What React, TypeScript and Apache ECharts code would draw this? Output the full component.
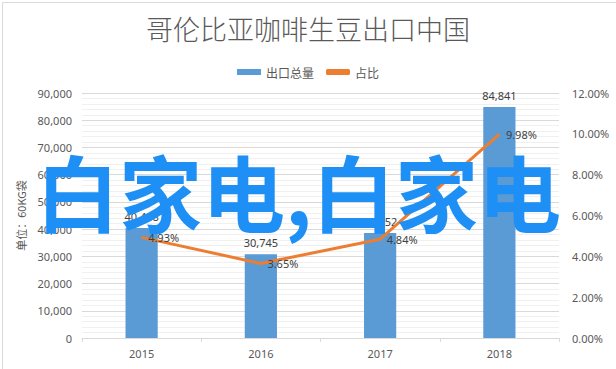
import React, { useEffect, useRef } from "react";
import * as echarts from "echarts";

const categories = ["2015", "2016", "2017", "2018"];
const exportVolume = [40448, 30745, 38552, 84841];
const shareRatio = [0.0493, 0.0365, 0.0484, 0.0998];
const titleText = "哥伦比亚咖啡生豆出口中国";
const seriesNames = ["出口总量", "占比"];
const leftAxisName = "单位：60KG袋";
const overlayText = "白家电,白家电";

const FONT = "'Noto Sans', 'Noto Sans CJK SC', sans-serif";
const CJK = "'Noto Sans CJK SC', sans-serif";

const fmtNum = (v: number) => v.toLocaleString("en-US");
const fmtPct = (v: number) => (v * 100).toFixed(2) + "%";

export default function App() {
  const ref = useRef<HTMLDivElement>(null);
  useEffect(() => {
    if (!ref.current) return;
    const chart = echarts.init(ref.current, undefined, { renderer: "svg" });
    chart.setOption({
      animation: false,
      backgroundColor: "#ffffff",
      textStyle: { fontFamily: FONT },
      title: {
        text: titleText,
        left: "center",
        top: 10,
        textStyle: { fontFamily: CJK, fontSize: 27, fontWeight: 300, color: "#595959" },
      },
      legend: {
        top: 61,
        left: "center",
        itemWidth: 24,
        itemHeight: 6,
        itemGap: 12,
        textStyle: { fontFamily: CJK, fontSize: 12, color: "#595959" },
        data: [
          { name: seriesNames[0], icon: "rect" },
          { name: seriesNames[1], icon: "roundRect" },
        ],
      },
      grid: { left: 82, right: 57, top: 93, bottom: 31, containLabel: false },
      xAxis: {
        type: "category",
        data: categories,
        boundaryGap: true,
        axisLine: { lineStyle: { color: "#d9d9d9" } },
        axisTick: { show: true, length: 4, lineStyle: { color: "#d9d9d9" } },
        axisLabel: { color: "#595959", fontSize: 11, margin: 10 },
      },
      yAxis: [
        {
          type: "value",
          min: 0,
          max: 90000,
          interval: 10000,
          name: leftAxisName,
          nameLocation: "middle",
          nameRotate: 90,
          nameGap: 55,
          nameTextStyle: { fontFamily: CJK, fontSize: 11, color: "#595959" },
          axisLine: { show: false },
          axisTick: { show: false },
          axisLabel: { color: "#595959", fontSize: 11, margin: 10, formatter: (v: number) => fmtNum(v) },
          splitLine: { show: true, lineStyle: { color: "#d9d9d9" } },
          minorTick: { show: false, splitNumber: 5 },
          minorSplitLine: { show: true, lineStyle: { color: "#f0f0f0" } },
        },
        {
          type: "value",
          min: 0,
          max: 0.12,
          interval: 0.02,
          axisLine: { show: false },
          axisTick: { show: false },
          splitLine: { show: false },
          axisLabel: { color: "#595959", fontSize: 11, margin: 13, formatter: (v: number) => fmtPct(v) },
        },
      ],
      series: [
        {
          name: seriesNames[0],
          type: "bar",
          data: exportVolume,
          barWidth: "27%",
          itemStyle: { color: "#5b9bd5" },
          label: {
            show: true,
            position: "top",
            distance: 6,
            color: "#404040",
            fontSize: 11,
            formatter: (p: any) => fmtNum(p.value),
          },
        },
        {
          name: seriesNames[1],
          type: "line",
          yAxisIndex: 1,
          data: shareRatio,
          symbol: "circle",
          symbolSize: 1,
          showSymbol: true,
          lineStyle: { color: "#ed7d31", width: 3 },
          itemStyle: { color: "#ed7d31" },
          label: {
            show: true,
            position: "right",
            distance: 6,
            color: "#404040",
            fontSize: 11,
            formatter: (p: any) => fmtPct(p.value),
          },
        },
      ],
      graphic: [
        {
          type: "rect",
          left: 0,
          top: 0,
          z: 100,
          shape: { x: 0.5, y: 0.5, width: 614, height: 367 },
          style: { fill: "none", stroke: "#d9d9d9", lineWidth: 1 },
          silent: true,
        },
        {
          type: "text",
          left: 36,
          top: 148,
          z: 200,
          style: {
            text: overlayText,
            fontFamily: CJK,
            fontSize: 83,
            fontWeight: "bold",
            fill: "#1e8ff5",
          },
          silent: true,
        },
      ],
    });
    return () => chart.dispose();
  }, []);
  return (
    <div
      ref={ref}
      style={{ position: "fixed", left: 0, top: 0, width: 616, height: 369 }}
    />
  );
}
